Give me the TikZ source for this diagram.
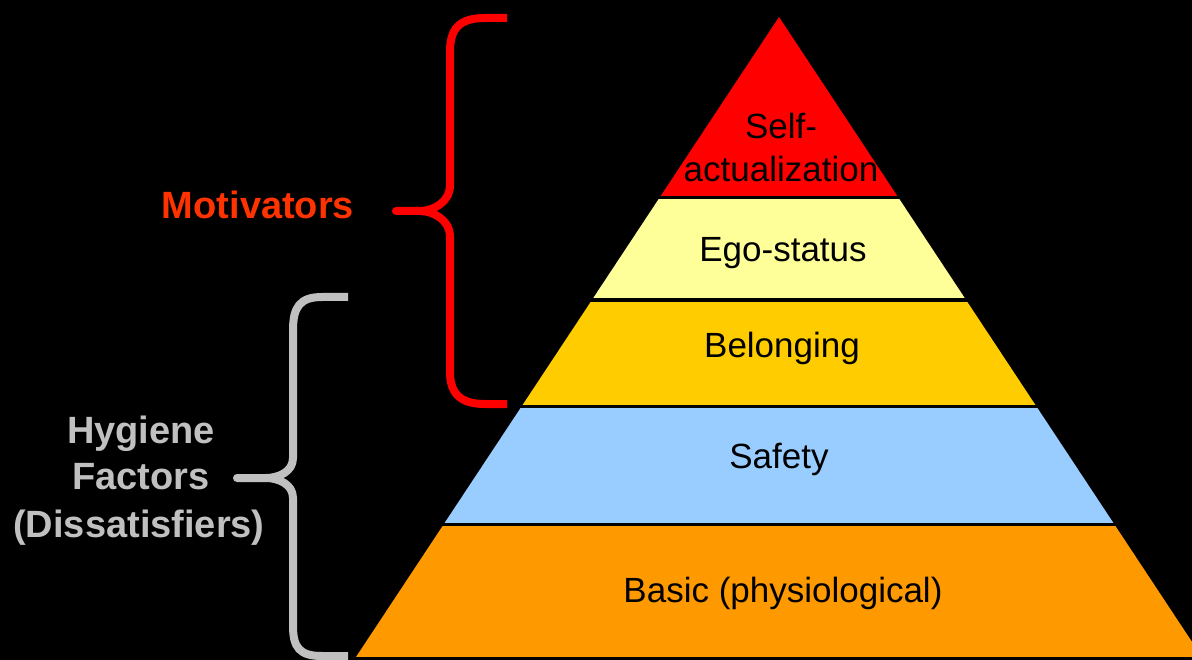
\documentclass[tikz,border=0pt]{standalone}
\usepackage{fontspec}
\setmainfont{Liberation Sans}
\definecolor{bandred}{HTML}{FF0000}
\definecolor{bandyellow}{HTML}{FFFF99}
\definecolor{bandgold}{HTML}{FFCC00}
\definecolor{bandblue}{HTML}{99CCFF}
\definecolor{bandorange}{HTML}{FF9900}
\definecolor{motred}{HTML}{FF3300}
\definecolor{hyggray}{HTML}{C0C0C0}
\tikzset{
  layertext/.style={anchor=base, inner sep=0pt, text=black, font=\fontsize{35}{43}\selectfont, align=center},
  sidetext/.style={anchor=base, inner sep=0pt, font=\fontsize{38}{47}\selectfont\bfseries, align=center},
  bracestroke/.style={line width=8pt, line join=round, line cap=butt},
}
\begin{document}
\begin{tikzpicture}[x=1pt,y=-1pt]
\useasboundingbox (0,0) rectangle (1192,660);
\fill[black] (0,0) rectangle (1192,660);
% pyramid bands
\begin{scope}
  \clip (779,17) -- (356,657) -- (1202,657) -- cycle;
  \fill[bandred]    (300,0)   rectangle (1200,196);
  \fill[bandyellow] (300,199) rectangle (1200,298);
  \fill[bandgold]   (300,302) rectangle (1200,405);
  \fill[bandblue]   (300,408) rectangle (1200,523);
  \fill[bandorange] (300,526) rectangle (1200,657);
\end{scope}
% layer labels
\node[layertext] (selfline1) at (781,139) {Self-};
\node[layertext] (selfline2) at (781,182) {actualization};
\node[layertext] (ego) at (783,262) {Ego-status};
\node[layertext] (belong) at (782,358) {Belonging};
\node[layertext] (safety) at (779,468) {Safety};
\node[layertext] (basic) at (783,602) {Basic (physiological)};
% side labels
\node[sidetext, text=motred] (motiv) at (258,219) {Motivators};
\node[sidetext, text=hyggray] (hyg1) at (141,443) {Hygiene};
\node[sidetext, text=hyggray] (hyg2) at (141,489) {Factors};
\node[sidetext, text=hyggray] (hyg3) at (139,537) {(Dissatisfiers)};
% braces
\coordinate (rtop) at (507,18);
\coordinate (rtip) at (396,211);
\coordinate (rbot) at (507,404);
\draw[bracestroke, bandred] (rtop) -- (485,18) .. controls (458,18) and (450,30) .. (450,52)
  -- (450,185) .. controls (450,203) and (432,211) .. (420,211) -- (rtip)
  -- (420,211) .. controls (432,211) and (450,219) .. (450,237)
  -- (450,372) .. controls (450,395) and (462,404) .. (485,404) -- (rbot);
\coordinate (gtop) at (348,297);
\coordinate (gtip) at (237,478);
\coordinate (gbot) at (348,656);
\draw[bracestroke, hyggray] (gtop) -- (322,297) .. controls (300,297) and (293,307) .. (293,330)
  -- (293,458) .. controls (293,472) and (278,478) .. (266,478) -- (gtip)
  -- (266,478) .. controls (278,478) and (293,484) .. (293,498)
  -- (293,626) .. controls (293,648) and (300,656) .. (322,656) -- (gbot);
\end{tikzpicture}
\end{document}
